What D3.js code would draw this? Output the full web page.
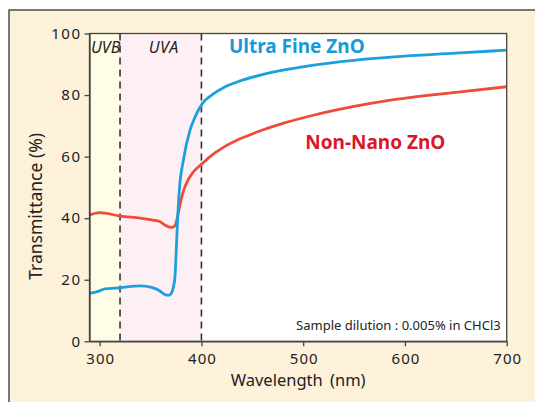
<!DOCTYPE html>
<html>
<head>
<meta charset="utf-8">
<script src="https://cdn.jsdelivr.net/npm/d3@7"></script>
<style>
  body { margin: 0; background: #fff; }
  text { font-family: "Noto Sans", "DejaVu Sans", sans-serif; }
</style>
</head>
<body>
<div id="chart"></div>
<script>
// data
var blueWl  = [290, 300, 305, 320, 340, 351, 358, 364, 367.5, 370, 372.5, 374, 375, 376.4, 378.3, 382.3, 388.8, 393, 401, 410, 421.6, 438, 458, 480, 507, 550, 589, 650, 700];
var blueVal = [15.6, 16.4, 17, 17.4, 18, 17.5, 16.6, 15.2, 14.9, 15.4, 17.7, 21, 27.5, 38.3, 49.2, 58.9, 68.6, 72.3, 77.3, 80, 82.4, 84.6, 86.5, 88.1, 89.6, 91.3, 92.4, 93.6, 94.6];
var redWl   = [290, 300, 320, 340, 352, 359, 364, 368, 371, 374, 376.4, 378, 380, 383, 387, 392, 401, 410, 421.6, 438, 458, 480, 507, 550, 589, 650, 700];
var redVal  = [41, 41.8, 40.7, 40, 39.4, 38.9, 37.8, 37.2, 37, 37.6, 40.3, 43, 46, 49.5, 52.5, 55, 57.8, 60.4, 63, 65.8, 68.4, 70.8, 73.2, 76.3, 78.5, 80.9, 82.7];
var xTicks = [300, 400, 500, 600, 700];
var yTicks = [0, 20, 40, 60, 80, 100];
var uvbRange = [290, 320];
var uvaRange = [320, 400];

// dimensions
var margin = {top: 33.5, left: 89.5},
    width = 417.2,
    height = 307.8;

var x = d3.scaleLinear().domain([290, 700]).range([0, width]);
var y = d3.scaleLinear().domain([0, 100]).range([height, 0]);

var root = d3.select("#chart").append("svg")
    .attr("width", 535)
    .attr("height", 402);

// beige frame
root.append("rect")
    .attr("x", 9).attr("y", 10)
    .attr("width", 540).attr("height", 400)
    .attr("fill", "#fdf1d9")
    .attr("stroke", "#333")
    .attr("stroke-width", 1.3);

var svg = root.append("g")
    .attr("transform", "translate(" + margin.left + "," + margin.top + ")");

// plot background
svg.append("rect")
    .attr("width", width).attr("height", height)
    .attr("fill", "#fff");

// UV bands
svg.append("rect")
    .attr("x", x(uvbRange[0])).attr("width", x(uvbRange[1]) - x(uvbRange[0]))
    .attr("height", height).attr("fill", "#fffde6");
svg.append("rect")
    .attr("x", x(uvaRange[0])).attr("width", x(uvaRange[1]) - x(uvaRange[0]))
    .attr("height", height).attr("fill", "#fdf0f5");

// dashed borders of the bands
svg.selectAll(".divider")
    .data([uvaRange[0], uvaRange[1]])
    .enter().append("line")
    .attr("x1", function(d) { return x(d); })
    .attr("x2", function(d) { return x(d); })
    .attr("y1", 0).attr("y2", height)
    .attr("stroke", "#333")
    .attr("stroke-width", 1.6)
    .attr("stroke-dasharray", "7,5");

svg.append("text")
    .attr("x", x(uvbRange[0]) + 1.5).attr("y", 19)
    .attr("font-size", 16).attr("font-style", "italic")
    .attr("fill", "#222")
    .text("UVB");
svg.append("text")
    .attr("x", x(360) + 3).attr("y", 19)
    .attr("text-anchor", "middle")
    .attr("font-size", 16).attr("font-style", "italic")
    .attr("letter-spacing", 0.5)
    .attr("fill", "#222")
    .text("UVA");

// curves
var line = d3.line()
    .x(function(d) { return x(d[0]); })
    .y(function(d) { return y(d[1]); })
    .curve(d3.curveMonotoneX);

svg.append("path")
    .datum(d3.zip(redWl, redVal))
    .attr("fill", "none")
    .attr("stroke", "#ef4b3b")
    .attr("stroke-width", 2.8)
    .attr("d", line);

svg.append("path")
    .datum(d3.zip(blueWl, blueVal))
    .attr("fill", "none")
    .attr("stroke", "#1ba0dd")
    .attr("stroke-width", 2.8)
    .attr("d", line);

// series labels
svg.append("text")
    .attr("x", x(427)).attr("y", y(93.8))
    .attr("font-size", 19).attr("font-weight", "bold")
    .attr("fill", "#159bd8")
    .text("Ultra Fine ZnO");
svg.append("text")
    .attr("x", x(502)).attr("y", y(62.5))
    .attr("font-size", 19).attr("font-weight", "bold")
    .attr("fill", "#d9172b")
    .text("Non-Nano ZnO");

svg.append("text")
    .attr("x", width - 6).attr("y", height - 11)
    .attr("text-anchor", "end")
    .attr("font-size", 13)
    .attr("fill", "#222")
    .text("Sample dilution : 0.005% in CHCl3");

// plot border
svg.append("rect")
    .attr("width", width).attr("height", height)
    .attr("fill", "none")
    .attr("stroke", "#444")
    .attr("stroke-width", 1.3);

// axes
var xAxis = svg.append("g")
    .attr("transform", "translate(0," + height + ")")
    .call(d3.axisBottom(x).tickValues(xTicks).tickSize(5).tickSizeOuter(0).tickPadding(7));

var yAxis = svg.append("g")
    .call(d3.axisLeft(y).tickValues(yTicks).tickSize(5).tickSizeOuter(0).tickPadding(3));

[xAxis, yAxis].forEach(function(g) {
    g.select(".domain").attr("stroke", "#444").attr("stroke-width", 1.3);
    g.selectAll(".tick line").attr("stroke", "#444").attr("stroke-width", 1.3);
    g.selectAll(".tick text")
        .attr("font-family", "Noto Sans, DejaVu Sans, sans-serif")
        .attr("font-size", 15)
        .attr("fill", "#222");
});
xAxis.selectAll(".tick text").attr("letter-spacing", 1).attr("dx", "0.5");
yAxis.selectAll(".tick text").attr("letter-spacing", 1.5);

// axis titles
svg.append("text")
    .attr("x", x(495)).attr("y", height + 45)
    .attr("text-anchor", "middle")
    .attr("font-size", 16.5)
    .attr("fill", "#222")
    .attr("word-spacing", 3)
    .text("Wavelength (nm)");

svg.append("text")
    .attr("transform", "translate(" + (-47.5) + "," + (y(50) + 19) + ") rotate(-90)")
    .attr("text-anchor", "middle")
    .attr("font-size", 17.5)
    .attr("fill", "#222")
    .text("Transmittance (%)");
</script>
</body>
</html>
